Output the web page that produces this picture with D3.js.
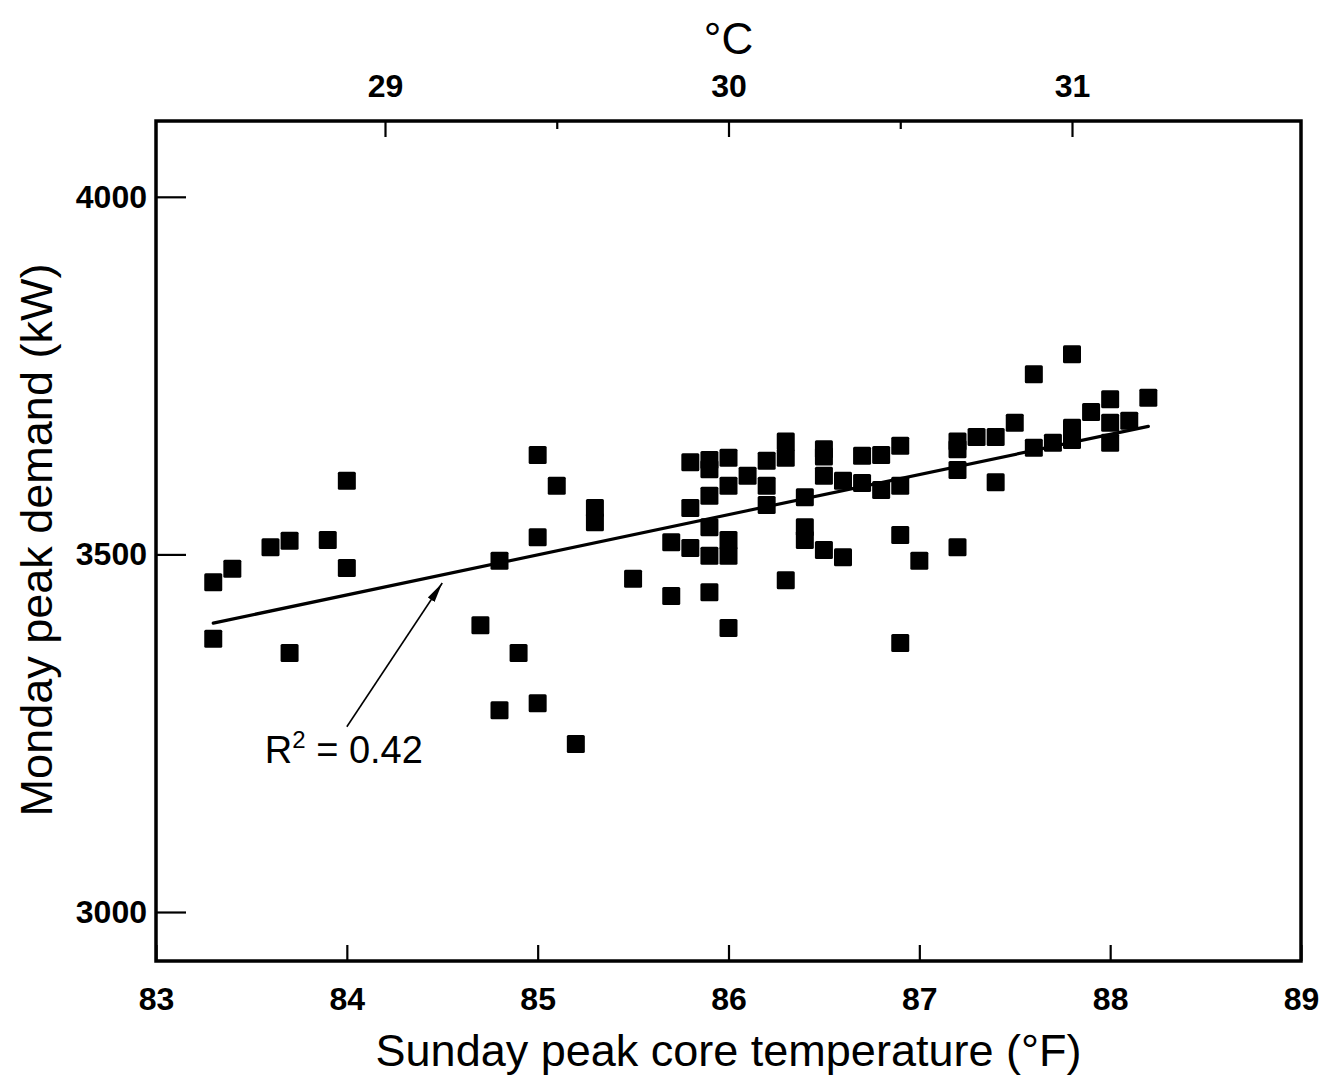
<!DOCTYPE html>
<html><head><meta charset="utf-8">
<script src="https://cdn.jsdelivr.net/npm/d3@7"></script>
<style>body{margin:0;background:#fff}svg{display:block}</style>
</head><body><svg id="c" width="1331" height="1079"></svg>
<script>
// ---- data ----
const tempF = [83.3,83.4,83.3,83.6,83.7,83.7,83.9,84.0,84.0,84.7,84.8,84.8,84.9,85.0,85.0,85.0,85.1,85.2,85.3,85.3,85.5,85.7,85.7,85.8,85.8,85.8,85.9,85.9,85.9,85.9,85.9,85.9,86.0,86.0,86.0,86.0,86.0,86.1,86.2,86.2,86.2,86.3,86.3,86.3,86.4,86.4,86.4,86.5,86.5,86.5,86.5,86.6,86.6,86.7,86.7,86.8,86.8,86.9,86.9,86.9,86.9,87.0,87.2,87.2,87.2,87.2,87.3,87.4,87.4,87.5,87.6,87.6,87.7,87.8,87.8,87.8,87.9,88.0,88.0,88.0,88.1,88.2];
const demandKW = [3461,3480,3382,3510,3519,3362,3520,3603,3481,3401,3491,3282,3362,3639,3524,3292,3596,3235,3565,3545,3466,3517,3442,3629,3565,3509,3632,3619,3582,3538,3498,3447,3635,3596,3520,3498,3397,3610,3631,3596,3569,3658,3635,3464,3580,3538,3520,3647,3637,3610,3506,3603,3496,3638,3600,3639,3590,3652,3596,3527,3376,3491,3658,3647,3618,3510,3664,3664,3601,3684,3752,3649,3656,3780,3677,3660,3699,3717,3684,3656,3687,3719];
const xTicksF = [83,84,85,86,87,88,89];
const yTicksKW = [3000,3500,4000];
const cTicksMajor = [29,30,31];
const cTicksMinor = [29.5,30.5];
const fitF = [83.3, 88.2];
const fitKW = [3404, 3679];
const arrowF = [84.0, 84.5];
const arrowKW = [3259, 3460];
const r2F = 83.57, r2KW = 3208;

// ---- layout ----
const L = 156, R = 1301, T = 121, B = 961;
const svg = d3.select('#c');
const x = d3.scaleLinear().domain([83, 89]).range([L, R]);
const y = d3.scaleLinear().domain([2931.5, 4106]).range([B, T]);
const c2f = c => c * 9 / 5 + 32;
const FONT = "'Liberation Sans', Arial, Helvetica, sans-serif";

// defs
svg.append('defs').append('marker')
  .attr('id', 'ah').attr('viewBox', '0 0 20 10').attr('refX', 20).attr('refY', 5)
  .attr('markerWidth', 20).attr('markerHeight', 10).attr('markerUnits', 'userSpaceOnUse')
  .attr('orient', 'auto')
  .append('path').attr('d', 'M0,1 L20,5 L0,9 Z').attr('fill', '#000');

// axes
const styleAxis = g => {
  g.select('.domain').remove();
  g.selectAll('.tick line').attr('stroke', '#000').attr('stroke-width', 2.2);
  g.selectAll('.tick text').attr('fill', '#000').attr('font-family', FONT)
    .attr('font-size', 32).attr('font-weight', 'bold');
};
svg.append('g').attr('transform', `translate(0,${B})`)
  .call(d3.axisBottom(x).tickValues(xTicksF).tickFormat(d3.format('d')).tickSize(-16).tickPadding(26))
  .call(styleAxis);
svg.append('g').attr('transform', `translate(${L},0)`)
  .call(d3.axisLeft(y).tickValues(yTicksKW).tickFormat(d3.format('d')).tickSize(-30).tickPadding(9))
  .call(styleAxis);
svg.append('g').attr('transform', `translate(0,${T})`)
  .call(d3.axisTop(x).tickValues(cTicksMajor.map(c2f)).tickFormat((d, i) => cTicksMajor[i]).tickSize(-16).tickPadding(24))
  .call(styleAxis);
svg.append('g').attr('transform', `translate(0,${T})`)
  .call(d3.axisTop(x).tickValues(cTicksMinor.map(c2f)).tickFormat('').tickSize(-8))
  .call(styleAxis);

// frame
svg.append('rect').attr('x', L).attr('y', T).attr('width', R - L).attr('height', B - T)
  .attr('fill', 'none').attr('stroke', '#000').attr('stroke-width', 3.5);

// regression line
svg.append('line')
  .attr('x1', x(fitF[0])).attr('y1', y(fitKW[0]))
  .attr('x2', x(fitF[1])).attr('y2', y(fitKW[1]))
  .attr('stroke', '#000').attr('stroke-width', 3.2).attr('stroke-linecap', 'round');

// points
const S = 18;
svg.append('g').selectAll('rect').data(tempF.map((f, i) => [f, demandKW[i]])).join('rect')
  .attr('x', d => x(d[0]) - S / 2).attr('y', d => y(d[1]) - S / 2)
  .attr('width', S).attr('height', S).attr('rx', 1.5).attr('fill', '#000');

// annotation arrow
svg.append('line')
  .attr('x1', x(arrowF[0])).attr('y1', y(arrowKW[0]))
  .attr('x2', x(arrowF[1])).attr('y2', y(arrowKW[1]))
  .attr('stroke', '#000').attr('stroke-width', 1.6).attr('marker-end', 'url(#ah)');

const r2 = svg.append('text').attr('x', x(r2F)).attr('y', y(r2KW))
  .attr('font-family', FONT).attr('font-size', 38).attr('fill', '#000');
r2.append('tspan').text('R');
r2.append('tspan').attr('font-size', 24).attr('dy', -15).text('2');
r2.append('tspan').attr('dy', 15).text(' = 0.42');

// titles
svg.append('text').attr('x', (L + R) / 2).attr('y', 1066).attr('text-anchor', 'middle')
  .attr('font-family', FONT).attr('font-size', 45).attr('fill', '#000')
  .text('Sunday peak core temperature (°F)');
svg.append('text').attr('transform', `translate(52,540) rotate(-90)`)
  .attr('text-anchor', 'middle')
  .attr('font-family', FONT).attr('font-size', 45).attr('fill', '#000')
  .text('Monday peak demand (kW)');
svg.append('text').attr('x', x(c2f(30))).attr('y', 54).attr('text-anchor', 'middle')
  .attr('font-family', FONT).attr('font-size', 44).attr('fill', '#000')
  .text('°C');
</script>
</body></html>
